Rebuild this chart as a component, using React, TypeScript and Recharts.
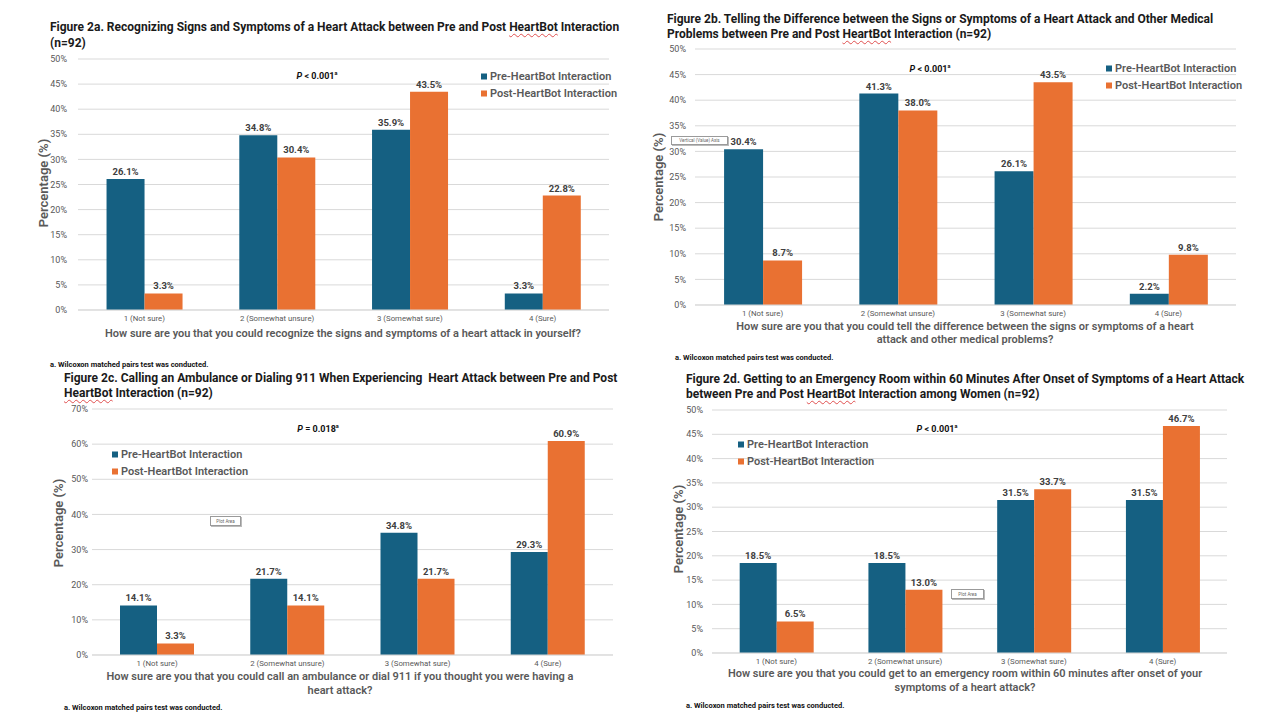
import React from "react";
import { BarChart, Bar, XAxis, YAxis, CartesianGrid, LabelList } from "recharts";

const PRE = "#156082";
const POST = "#E97132";
const GRAY = "#595959";

const responseLevels = ["1 (Not sure)", "2 (Somewhat unsure)", "3 (Somewhat sure)", "4 (Sure)"];

const preRecognize = [26.1, 34.8, 35.9, 3.3];
const postRecognize = [3.3, 30.4, 43.5, 22.8];
const preDifference = [30.4, 41.3, 26.1, 2.2];
const postDifference = [8.7, 38.0, 43.5, 9.8];
const preAmbulance = [14.1, 21.7, 34.8, 29.3];
const postAmbulance = [3.3, 14.1, 21.7, 60.9];
const preEmergency = [18.5, 18.5, 31.5, 31.5];
const postEmergency = [6.5, 13.0, 33.7, 46.7];

const ticksTo50 = [0, 5, 10, 15, 20, 25, 30, 35, 40, 45, 50];
const ticksTo70 = [0, 10, 20, 30, 40, 50, 60, 70];

const FOOTNOTE = "a. Wilcoxon matched pairs test was conducted.";

const rows = (pre: number[], post: number[]) =>
  responseLevels.map((level, i) => ({ level, pre: pre[i], post: post[i] }));

const pct = (v: any) => `${Number(v).toFixed(1)}%`;

const HB = () => (
  <span style={{ textDecoration: "underline wavy #e05050", textDecorationThickness: "1px", textUnderlineOffset: "2px" }}>
    HeartBot
  </span>
);

function At({ x, y, center, children, style }: any) {
  return (
    <div
      style={{
        position: "absolute",
        left: x,
        top: y,
        transform: center ? "translate(-50%, -50%)" : "translateY(-50%)",
        whiteSpace: "nowrap",
        lineHeight: 1,
        ...style,
      }}
    >
      {children}
    </div>
  );
}

function PValue({ x, y, op, value }: any) {
  return (
    <At x={x} y={y} center style={{ fontSize: 9, fontWeight: 700, color: "#111" }}>
      <i>P</i> {op} {value}
      <sup style={{ fontSize: 5.5 }}>a</sup>
    </At>
  );
}

function SeriesLegend({ x, y }: any) {
  const item = (color: string, text: string, dy: number) => (
    <At x={x} y={y + dy} style={{ fontSize: 11, fontWeight: 600, color: GRAY, display: "flex", alignItems: "center" }}>
      <span style={{ width: 6, height: 6, background: color, marginRight: 3, display: "inline-block" }} />
      {text}
    </At>
  );
  return (
    <>
      {item(PRE, "Pre-HeartBot Interaction", 0)}
      {item(POST, "Post-HeartBot Interaction", 17)}
    </>
  );
}

function Tag({ x, y, w, h, text }: any) {
  return (
    <div
      style={{
        position: "absolute",
        left: x,
        top: y,
        width: w,
        height: h,
        border: "1px solid #9a9a9a",
        boxShadow: "1px 1px 0 #bbb",
        fontSize: 4.5,
        color: "#666",
        display: "flex",
        alignItems: "center",
        justifyContent: "center",
        background: "#fff",
        whiteSpace: "nowrap",
      }}
    >
      {text}
    </div>
  );
}

function Panel({ plot, ticks, pre, post, tickGap }: any) {
  const yw = 40;
  const mt = 10;
  const mr = 10;
  const width = plot.x1 - plot.x0 + yw + mr;
  const height = plot.y1 - plot.y0 + mt + 20;
  const max = ticks[ticks.length - 1];
  return (
    <div style={{ position: "absolute", left: plot.x0 - yw, top: plot.y0 - mt }}>
      <BarChart
        width={width}
        height={height}
        data={rows(pre, post)}
        margin={{ top: mt, right: mr, left: 0, bottom: 0 }}
        barCategoryGap="21.5%"
        barGap={0}
      >
        <CartesianGrid vertical={false} stroke="#D9D9D9" />
        <XAxis
          dataKey="level"
          height={20}
          tickLine={false}
          tickSize={5}
          tickMargin={0}
          axisLine={{ stroke: "#D9D9D9" }}
          tick={{ fontSize: 7.8, fill: GRAY }}
          interval={0}
        />
        <YAxis
          width={yw}
          domain={[0, max]}
          ticks={ticks}
          tickLine={false}
          tickSize={0}
          tickMargin={tickGap}
          axisLine={false}
          tick={{ fontSize: 9, fill: GRAY }}
          tickFormatter={(v: number) => `${v}%`}
        />
        <Bar dataKey="pre" fill={PRE} isAnimationActive={false}>
          <LabelList dataKey="pre" position="top" offset={4} formatter={pct} fill="#404040" fontSize={9.5} fontWeight={700} />
        </Bar>
        <Bar dataKey="post" fill={POST} isAnimationActive={false}>
          <LabelList dataKey="post" position="top" offset={4} formatter={pct} fill="#404040" fontSize={9.5} fontWeight={700} />
        </Bar>
      </BarChart>
    </div>
  );
}

const titleStyle = { fontSize: 12, fontWeight: 700, color: "#1a1a1a" };
const axisTitleStyle = { fontSize: 11, fontWeight: 600, color: GRAY };
const footStyle = { fontSize: 7.5, fontWeight: 700, color: "#111" };

function YLabel({ x, y }: any) {
  return (
    <div
      style={{
        position: "absolute",
        left: x,
        top: y,
        transform: "translate(-50%, -50%) rotate(-90deg)",
        whiteSpace: "nowrap",
        lineHeight: 1,
        fontSize: 13,
        fontWeight: 600,
        color: GRAY,
      }}
    >
      Percentage (%)
    </div>
  );
}

export default function App() {
  return (
    <div
      style={{
        position: "absolute",
        left: 0,
        top: 0,
        width: 1280,
        height: 720,
        background: "#fff",
        overflow: "hidden",
        fontFamily: "Roboto, 'Noto Sans', sans-serif",
      }}
    >
      {/* Figure 2a */}
      <At x={50} y={27} style={titleStyle}>
        Figure 2a. Recognizing Signs and Symptoms of a Heart Attack between Pre and Post <HB /> Interaction
      </At>
      <At x={50} y={43} style={titleStyle}>(n=92)</At>
      <Panel plot={{ x0: 78, x1: 609, y0: 59, y1: 310 }} ticks={ticksTo50} pre={preRecognize} post={postRecognize} tickGap={11} />
      <YLabel x={43} y={183} />
      <PValue x={317} y={76} op="<" value="0.001" />
      <SeriesLegend x={481} y={76} />
      <At x={343} y={333} center style={axisTitleStyle}>
        How sure are you that you could recognize the signs and symptoms of a heart attack in yourself?
      </At>
      <At x={50} y={365} style={footStyle}>{FOOTNOTE}</At>

      {/* Figure 2b */}
      <At x={667} y={19} style={titleStyle}>
        Figure 2b. Telling the Difference between the Signs or Symptoms of a Heart Attack and Other Medical
      </At>
      <At x={667} y={34} style={titleStyle}>
        Problems between Pre and Post <HB /> Interaction (n=92)
      </At>
      <Panel plot={{ x0: 695, x1: 1236, y0: 49, y1: 305 }} ticks={ticksTo50} pre={preDifference} post={postDifference} tickGap={9} />
      <YLabel x={658} y={177} />
      <Tag x={671} y={136} w={55} h={7} text="Vertical (Value) Axis" />
      <PValue x={930} y={69} op="<" value="0.001" />
      <SeriesLegend x={1106} y={68} />
      <At x={965} y={326} center style={axisTitleStyle}>
        How sure are you that you could tell the difference between the signs or symptoms of a heart
      </At>
      <At x={965} y={339} center style={axisTitleStyle}>attack and other medical problems?</At>
      <At x={675} y={358} style={footStyle}>{FOOTNOTE}</At>

      {/* Figure 2c */}
      <At x={64} y={378} style={titleStyle}>
        Figure 2c. Calling an Ambulance or Dialing 911 When Experiencing&nbsp; Heart Attack between Pre and Post
      </At>
      <At x={64} y={393} style={titleStyle}>
        <HB /> Interaction (n=92)
      </At>
      <Panel plot={{ x0: 92, x1: 613, y0: 409, y1: 655 }} ticks={ticksTo70} pre={preAmbulance} post={postAmbulance} tickGap={4} />
      <YLabel x={58} y={523} />
      <Tag x={210} y={516} w={29} h={8} text="Plot Area" />
      <PValue x={318} y={429} op="=" value="0.018" />
      <SeriesLegend x={112} y={454} />
      <At x={340} y={676} center style={axisTitleStyle}>
        How sure are you that you could call an ambulance or dial 911 if you thought you were having a
      </At>
      <At x={340} y={690} center style={axisTitleStyle}>heart attack?</At>
      <At x={64} y={708} style={footStyle}>{FOOTNOTE}</At>

      {/* Figure 2d */}
      <At x={686} y={379} style={titleStyle}>
        Figure 2d. Getting to an Emergency Room within 60 Minutes After Onset of Symptoms of a Heart Attack
      </At>
      <At x={686} y={394} style={titleStyle}>
        between Pre and Post <HB /> Interaction among Women (n=92)
      </At>
      <Panel plot={{ x0: 712, x1: 1227, y0: 410, y1: 653 }} ticks={ticksTo50} pre={preEmergency} post={postEmergency} tickGap={9} />
      <YLabel x={678} y={529} />
      <Tag x={951} y={589} w={31} h={8} text="Plot Area" />
      <PValue x={937} y={429} op="<" value="0.001" />
      <SeriesLegend x={738} y={444} />
      <At x={965} y={673} center style={axisTitleStyle}>
        How sure are you that you could get to an emergency room within 60 minutes after onset of your
      </At>
      <At x={965} y={687} center style={axisTitleStyle}>symptoms of a heart attack?</At>
      <At x={686} y={706} style={footStyle}>{FOOTNOTE}</At>
    </div>
  );
}
